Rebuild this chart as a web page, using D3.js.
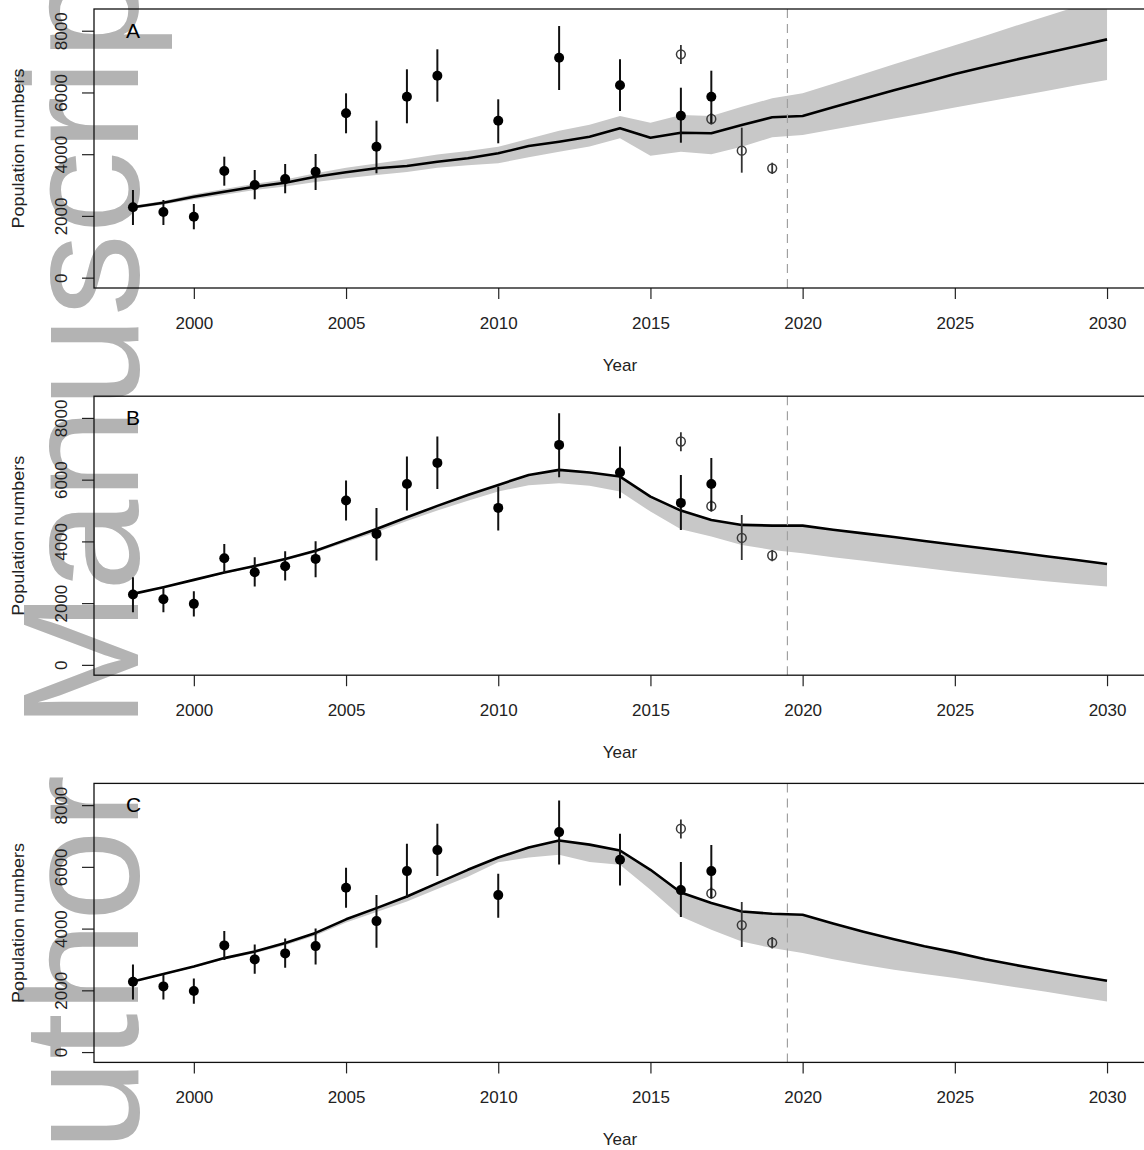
<!DOCTYPE html>
<html>
<head>
<meta charset="utf-8">
<script src="https://cdn.jsdelivr.net/npm/d3@7"></script>
<style>
body { margin: 0; background: #fff; }
svg { display: block; }
</style>
</head>
<body>
<svg id="chart" width="1144" height="1150"></svg>
<script>
// years of the model trajectories
var years = [1998,1999,2000,2001,2002,2003,2004,2005,2006,2007,2008,2009,2010,2011,2012,2013,2014,
             2015,2016,2017,2018,2019,2020,2021,2022,2023,2024,2025,2026,2027,2028,2029,2030];

// panel A model
var lineA = [2280,2429,2623,2785,2947,3077,3271,3413,3543,3618,3757,3867,4029,4265,4405,4567,4839,
             4534,4696,4677,4946,5195,5237,5520,5800,6070,6330,6600,6830,7060,7280,7500,7720];
var lowA  = [2230,2370,2540,2690,2840,2950,3100,3220,3330,3420,3560,3640,3705,3900,4081,4250,4515,
             3951,4081,3995,4243,4547,4622,4800,4980,5160,5330,5510,5690,5870,6050,6230,6403];
var highA = [2330,2480,2700,2870,3040,3180,3380,3560,3700,3840,3990,4100,4243,4500,4761,4950,5237,
             5020,5269,5237,5538,5810,5972,6280,6600,6910,7220,7530,7840,8160,8470,8780,9090];

// panel B model
var lineB = [2300,2516,2753,2990,3200,3430,3700,4050,4400,4780,5150,5500,5830,6150,6316,6230,6100,
             5452,4998,4696,4534,4512,4512,4380,4260,4140,4010,3890,3770,3650,3520,3400,3270];
var lowB  = [2280,2495,2725,2955,3160,3380,3640,3970,4300,4660,5000,5320,5614,5820,5884,5800,5614,
             4966,4394,4156,3887,3725,3617,3490,3370,3250,3135,3020,2910,2810,2710,2620,2536];
var highB = [2320,2535,2775,3010,3220,3450,3720,4070,4420,4800,5170,5520,5850,6170,6340,6255,6120,
             5470,5020,4715,4555,4530,4530,4400,4280,4160,4030,3910,3790,3670,3540,3420,3290];

// panel C model
var lineC = [2287,2531,2771,3044,3259,3530,3860,4300,4664,5040,5472,5904,6303,6627,6854,6720,6530,
             5904,5169,4826,4554,4480,4447,4165,3901,3654,3430,3230,3010,2820,2640,2470,2310];
var lowC  = [2270,2505,2740,3000,3200,3460,3780,4200,4540,4880,5280,5680,6150,6300,6390,6157,6066,
             5256,4393,3961,3582,3368,3206,3010,2830,2670,2530,2400,2250,2100,1950,1790,1640];
var highC = [2305,2550,2790,3065,3280,3550,3880,4320,4685,5060,5495,5925,6325,6650,6875,6740,6550,
             5925,5190,4845,4575,4500,4467,4185,3920,3675,3450,3250,3030,2840,2660,2490,2330];

// survey estimates (filled) with error bars
var obsYears = [1998,1999,2000,2001,2002,2003,2004,2005,2006,2007,2008,2010,2012,2014,2016,2017];
var obsValue = [2280,2128,1976,3456,3002,3197,3433,5325,4243,5862,6543,5085,7126,6231,5247,5862];
var obsLow   = [1707,1707,1567,2980,2539,2734,2840,4677,3381,5001,5700,4353,6079,5399,4372,5000];
var obsHigh  = [2840,2517,2387,3919,3488,3683,4006,5972,5085,6750,7398,5778,8152,7074,6154,6705];

// other estimates (open circles)
var openYears = [2016,2017,2018,2019];
var openValue = [7236,5140,4113,3543];
var openLow   = [6922,4960,3401,3359];
var openHigh  = [7537,5330,4858,3725];

var panelNames = ["A", "B", "C"];
var xTicks = [2000, 2005, 2010, 2015, 2020, 2025, 2030];
var yTicks = [0, 2000, 4000, 6000, 8000];
var forecastStart = 2019.5;

var panels = [
  {name: panelNames[0], line: lineA, low: lowA, high: highA},
  {name: panelNames[1], line: lineB, low: lowB, high: highB},
  {name: panelNames[2], line: lineC, low: lowC, high: highC}
];

var svg = d3.select("#chart");
var font = "'Liberation Sans', Arial, Helvetica, sans-serif";

// watermark behind everything
svg.append("text")
    .attr("transform", "translate(138,1261) rotate(-90)")
    .attr("font-family", font)
    .attr("font-size", 165)
    .attr("fill", "#b3b3b3")
    .text("Author Manuscript");

var left = 94, right = 1146, plotH = 279, step = 387.2;

// R style axis limits, 4% padding each side
var xLim = [1998, 2030], yLim = [0, 8369];
var xPad = (xLim[1] - xLim[0]) * 0.04, yPad = (yLim[1] - yLim[0]) * 0.04;

var x = d3.scaleLinear()
    .domain([xLim[0] - xPad, xLim[1] + xPad])
    .range([left, right]);

panels.forEach(function(p, i) {
  var top = 9 + i * step;
  var g = svg.append("g");

  var y = d3.scaleLinear()
      .domain([yLim[0] - yPad, yLim[1] + yPad])
      .range([top + plotH, top]);

  g.append("clipPath").attr("id", "clip" + i)
    .append("rect")
      .attr("x", left).attr("y", top)
      .attr("width", right - left).attr("height", plotH);

  var plot = g.append("g").attr("clip-path", "url(#clip" + i + ")");

  var rows = years.map(function(yr, k) {
    return {year: yr, line: p.line[k], low: p.low[k], high: p.high[k]};
  });

  plot.append("path")
      .datum(rows)
      .attr("fill", "#c8c8c8")
      .attr("d", d3.area()
        .x(function(d) { return x(d.year); })
        .y0(function(d) { return y(d.low); })
        .y1(function(d) { return y(d.high); }));

  plot.append("path")
      .datum(rows)
      .attr("fill", "none")
      .attr("stroke", "#000")
      .attr("stroke-width", 2.6)
      .attr("stroke-linejoin", "round")
      .attr("d", d3.line()
        .x(function(d) { return x(d.year); })
        .y(function(d) { return y(d.line); }));

  // forecast start
  plot.append("line")
      .attr("x1", x(forecastStart)).attr("x2", x(forecastStart))
      .attr("y1", top).attr("y2", top + plotH)
      .attr("stroke", "#a0a0a0")
      .attr("stroke-width", 1.2)
      .attr("stroke-dasharray", "9,6");

  // open circles
  openYears.forEach(function(yr, k) {
    plot.append("line")
        .attr("x1", x(yr)).attr("x2", x(yr))
        .attr("y1", y(openLow[k])).attr("y2", y(openHigh[k]))
        .attr("stroke", "#333").attr("stroke-width", 1.8);
    plot.append("circle")
        .attr("cx", x(yr)).attr("cy", y(openValue[k]))
        .attr("r", 4.4)
        .attr("fill", "none")
        .attr("stroke", "#3a3a3a").attr("stroke-width", 1.5);
  });

  // filled estimates
  obsYears.forEach(function(yr, k) {
    plot.append("line")
        .attr("x1", x(yr)).attr("x2", x(yr))
        .attr("y1", y(obsLow[k])).attr("y2", y(obsHigh[k]))
        .attr("stroke", "#111").attr("stroke-width", 2);
    plot.append("circle")
        .attr("cx", x(yr)).attr("cy", y(obsValue[k]))
        .attr("r", 5)
        .attr("fill", "#000");
  });

  // axes
  var xAxis = g.append("g")
      .attr("transform", "translate(0," + (top + plotH) + ")")
      .call(d3.axisBottom(x).tickValues(xTicks).tickSize(11).tickFormat(d3.format("d")));
  xAxis.select(".domain").remove();
  xAxis.selectAll("line").attr("stroke", "#222").attr("stroke-width", 1.2);
  xAxis.selectAll("text")
      .attr("y", 41).attr("dy", 0)
      .attr("font-family", font).attr("font-size", 17).attr("fill", "#222");

  var yAxis = g.append("g")
      .attr("transform", "translate(" + left + ",0)")
      .call(d3.axisLeft(y).tickValues(yTicks).tickSize(12).tickFormat(d3.format("d")));
  yAxis.select(".domain").remove();
  yAxis.selectAll("line").attr("stroke", "#222").attr("stroke-width", 1.2);
  yAxis.selectAll("text")
      .attr("transform", "rotate(-90)")
      .attr("x", 0).attr("y", -27).attr("dy", 0)
      .attr("text-anchor", "middle")
      .attr("font-family", font).attr("font-size", 17).attr("fill", "#222");

  // box
  g.append("rect")
      .attr("x", left).attr("y", top)
      .attr("width", right - left).attr("height", plotH)
      .attr("fill", "none")
      .attr("stroke", "#111")
      .attr("stroke-width", 1.3);

  g.append("text")
      .attr("x", 126).attr("y", top + 29)
      .attr("font-family", font).attr("font-size", 21)
      .text(p.name);

  g.append("text")
      .attr("x", (left + right) / 2).attr("y", top + 362)
      .attr("text-anchor", "middle")
      .attr("font-family", font).attr("font-size", 17).attr("fill", "#222")
      .text("Year");

  g.append("text")
      .attr("transform", "translate(24," + (top + plotH / 2) + ") rotate(-90)")
      .attr("text-anchor", "middle")
      .attr("font-family", font).attr("font-size", 17).attr("fill", "#222")
      .attr("textLength", 160).attr("lengthAdjust", "spacingAndGlyphs")
      .text("Population numbers");
});
</script>
</body>
</html>
